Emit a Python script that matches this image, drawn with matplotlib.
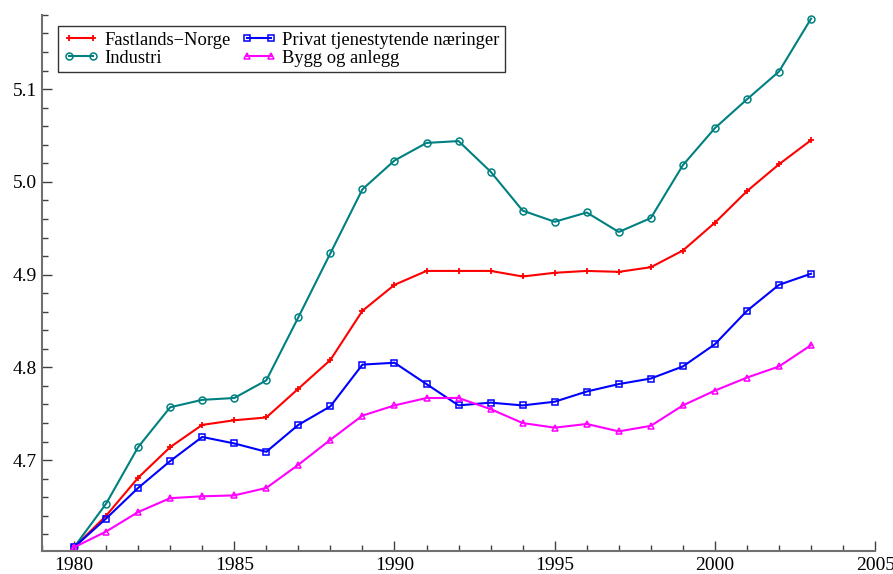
import matplotlib
matplotlib.use("Agg")
import matplotlib.pyplot as plt
from matplotlib.ticker import MultipleLocator

plt.rcParams['font.family'] = ['Liberation Serif', 'DejaVu Serif']

years = list(range(1980, 2004))
fastlands = [4.606, 4.640, 4.681, 4.714, 4.738, 4.743, 4.746, 4.777, 4.808, 4.861, 4.889, 4.904,
             4.904, 4.904, 4.898, 4.902, 4.904, 4.903, 4.908, 4.926, 4.956, 4.990, 5.019, 5.045]
industri = [4.606, 4.653, 4.714, 4.757, 4.765, 4.767, 4.786, 4.854, 4.923, 4.992, 5.023, 5.042,
            5.044, 5.011, 4.969, 4.957, 4.967, 4.946, 4.961, 5.018, 5.058, 5.089, 5.119, 5.176]
privat = [4.606, 4.637, 4.670, 4.699, 4.725, 4.718, 4.709, 4.738, 4.758, 4.803, 4.805, 4.782,
          4.759, 4.762, 4.759, 4.763, 4.774, 4.782, 4.788, 4.801, 4.825, 4.861, 4.889, 4.901]
bygg = [4.606, 4.623, 4.644, 4.659, 4.661, 4.662, 4.670, 4.695, 4.722, 4.748, 4.759, 4.767,
        4.767, 4.755, 4.740, 4.735, 4.739, 4.731, 4.737, 4.759, 4.775, 4.789, 4.801, 4.824]
labels = ["Fastlands\u2212Norge", "Industri", "Privat tjenestytende næringer", "Bygg og anlegg"]

fig = plt.figure(figsize=(8.93, 5.74), dpi=100)
ax = fig.add_axes([0.047, 0.040, 0.933, 0.934])

ax.plot(years, fastlands, color='red', lw=1.5, marker='+', ms=5, mew=1.3, label=labels[0])
ax.plot(years, industri, color='#008080', lw=1.5, marker='o', ms=5, mfc='none', mew=1.1, label=labels[1])
ax.plot(years, privat, color='blue', lw=1.5, marker='s', ms=5, mfc='none', mew=1.1, label=labels[2])
ax.plot(years, bygg, color='magenta', lw=1.5, marker='^', ms=5, mfc='none', mew=1.1, label=labels[3])

ax.set_xlim(1979, 2005)
ax.set_ylim(4.602, 5.18)
ax.xaxis.set_major_locator(MultipleLocator(5))
ax.xaxis.set_minor_locator(MultipleLocator(1))
ax.yaxis.set_major_locator(MultipleLocator(0.1))
ax.yaxis.set_minor_locator(MultipleLocator(0.02))
ax.yaxis.set_major_formatter(plt.FuncFormatter(lambda v, p: f"{v:.1f}"))

for s in ['top', 'right']:
    ax.spines[s].set_visible(False)
for s in ['left', 'bottom']:
    ax.spines[s].set_color('#707070')
    ax.spines[s].set_linewidth(1.5)
ax.tick_params(which='major', direction='in', length=7, width=1, color='#404040', labelsize=14)
ax.tick_params(which='minor', direction='in', length=4, width=1, color='#404040')
ax.tick_params(axis='x', pad=4)

leg = ax.legend(loc='upper left', ncol=2, bbox_to_anchor=(0.019, 0.979), fontsize=13.3,
                frameon=True, fancybox=False, edgecolor='black', borderpad=0.3,
                labelspacing=0.05, handlelength=1.9, handletextpad=0.3, columnspacing=0.6,
                borderaxespad=0, numpoints=2)
leg.get_frame().set_linewidth(1.0)

fig.savefig("out.png", dpi=100)
